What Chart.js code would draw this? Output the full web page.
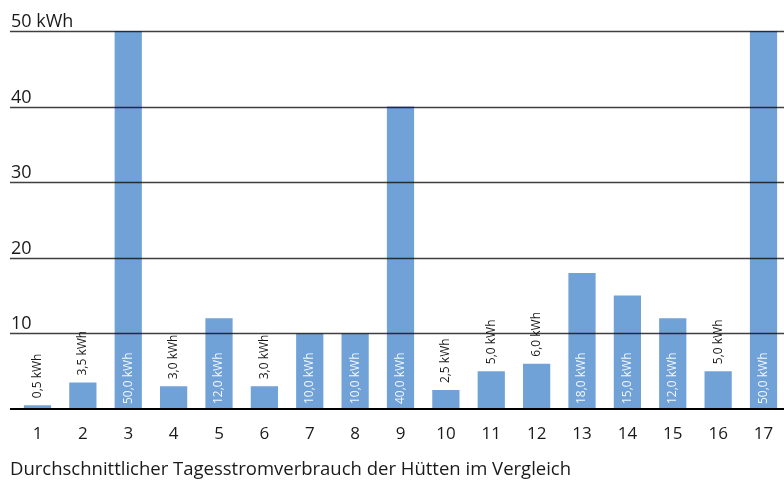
<!DOCTYPE html>
<html>
<head>
<meta charset="utf-8">
<script src="https://cdn.jsdelivr.net/npm/chart.js@4.4.1/dist/chart.umd.min.js"></script>
<style>
  html, body { margin: 0; padding: 0; background: #fff; overflow: hidden; }
  #wrap { position: relative; width: 790px; height: 483px; }
</style>
</head>
<body>
<div id="wrap"><canvas id="graph"></canvas></div>
<script>
const huts = ["1", "2", "3", "4", "5", "6", "7", "8", "9", "10", "11", "12", "13", "14", "15", "16", "17"];
const kwhPerDay = [0.5, 3.5, 50, 3, 12, 3, 10, 10, 40, 2.5, 5, 6, 18, 15, 12, 5, 50];
const yTicks = [10, 20, 30, 40, 50];
const yTickLabels = ["10", "20", "30", "40", "50 kWh"];
const title = "Durchschnittlicher Tagesstromverbrauch der Hütten im Vergleich";

const FONT = "'Open Sans', sans-serif";
const barColor = "#70a1d7";

// labels, gridlines and axis text are drawn on top of the bars
const overlay = {
  id: "overlay",
  afterDatasetsDraw(chart) {
    const ctx = chart.ctx;
    const x = chart.scales.x;
    const y = chart.scales.y;
    const meta = chart.getDatasetMeta(0);

    // value labels, rotated
    ctx.save();
    ctx.font = "12px " + FONT;
    ctx.textBaseline = "middle";
    meta.data.forEach((bar, i) => {
      const v = kwhPerDay[i];
      const txt = v.toFixed(1).replace(".", ",") + " kWh";
      const inside = v >= 10;
      ctx.save();
      ctx.translate(bar.x, inside ? y.getPixelForValue(0) - 5 : bar.y - 7);
      ctx.rotate(-Math.PI / 2);
      ctx.fillStyle = inside ? "rgba(255,255,255,0.92)" : "#1a1a1a";
      ctx.textAlign = "left";
      ctx.fillText(txt, 0, 0);
      ctx.restore();
    });
    ctx.restore();

    // gridlines
    ctx.save();
    ctx.strokeStyle = "rgba(15,15,15,0.8)";
    ctx.lineWidth = 1.3;
    yTicks.forEach((t) => {
      const py = Math.round(y.getPixelForValue(t)) + 0.5;
      ctx.beginPath();
      ctx.moveTo(10, py);
      ctx.lineTo(784, py);
      ctx.stroke();
    });
    const base = Math.round(y.getPixelForValue(0));
    ctx.strokeStyle = "#000";
    ctx.lineWidth = 2;
    ctx.beginPath();
    ctx.moveTo(10, base);
    ctx.lineTo(784, base);
    ctx.stroke();

    // y labels above the lines
    ctx.fillStyle = "#1a1a1a";
    ctx.font = "18px " + FONT;
    ctx.textAlign = "left";
    ctx.textBaseline = "alphabetic";
    yTicks.forEach((t, i) => {
      ctx.fillText(yTickLabels[i], 11, y.getPixelForValue(t) - 4);
    });

    // x labels
    ctx.font = "17px " + FONT;
    ctx.textAlign = "center";
    huts.forEach((h, i) => {
      ctx.fillText(h, x.getPixelForValue(i), 439);
    });

    // caption
    ctx.font = "18.5px " + FONT;
    ctx.textAlign = "left";
    ctx.fillText(title, 10, 475);
    ctx.restore();
  }
};

new Chart(document.getElementById("graph"), {
  type: "bar",
  data: {
    labels: huts,
    datasets: [{
      data: kwhPerDay,
      backgroundColor: barColor,
      barPercentage: 0.6,
      categoryPercentage: 1
    }]
  },
  options: {
    responsive: true,
    maintainAspectRatio: false,
    animation: false,
    layout: { padding: { top: 31, bottom: 74, left: 14.8, right: 3.8 } },
    plugins: { legend: { display: false }, tooltip: { enabled: false } },
    scales: {
      x: { display: false },
      y: { display: false, min: 0, max: 50 }
    }
  },
  plugins: [overlay]
});
</script>
</body>
</html>
